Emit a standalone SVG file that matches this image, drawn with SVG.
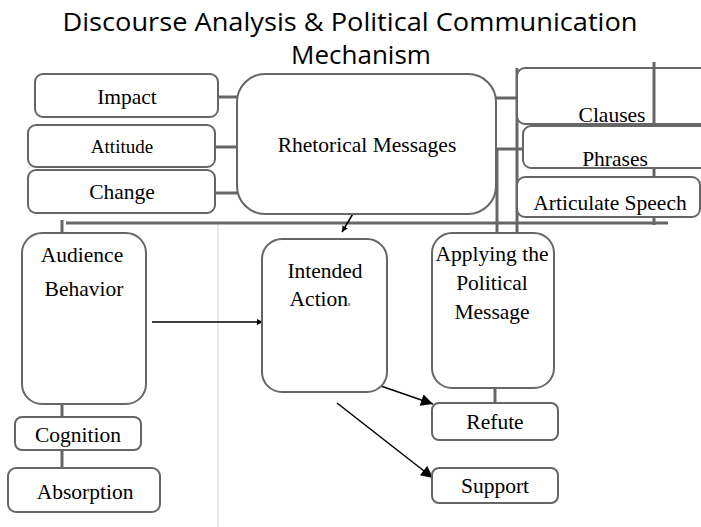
<svg xmlns="http://www.w3.org/2000/svg" width="701" height="527" viewBox="0 0 701 527">
<defs>
<style>
.box{fill:#fff;stroke:#666;stroke-width:2}
.ln{stroke:#666;stroke-width:3;fill:none}
.ar{stroke:#000;stroke-width:1.5;fill:none}
.t{font-family:'Liberation Serif','DejaVu Serif',serif;font-size:21.5px;fill:#000;text-anchor:middle}
.title{font-family:'Open Sans','Noto Sans',sans-serif;font-size:26px;fill:#000;text-anchor:middle}
</style>
<marker id="ah" viewBox="0 0 10 10" refX="10" refY="5" markerWidth="9" markerHeight="8" markerUnits="strokeWidth" orient="auto"><path d="M0,0 L10,5 L0,10 z" fill="#000"/></marker>
<marker id="as" viewBox="0 0 10 10" refX="10" refY="5" markerWidth="4" markerHeight="4" markerUnits="strokeWidth" orient="auto"><path d="M0,0 L10,5 L0,10 z" fill="#000"/></marker>
</defs>
<rect width="701" height="527" fill="#fff"/>
<g id="title">
<text class="title" x="350" y="31" textLength="575" lengthAdjust="spacingAndGlyphs">Discourse Analysis &amp; Political Communication</text>
<text class="title" x="361" y="64">Mechanism</text>
</g>
<g id="connectors">
<line x1="218" y1="224" x2="218" y2="527" stroke="#ede9df" stroke-width="2"/>
<line class="ln" x1="218" y1="97" x2="238" y2="97"/>
<line class="ln" x1="215" y1="147" x2="238" y2="147"/>
<line class="ln" x1="215" y1="193" x2="238" y2="193"/>
<line class="ln" x1="66" y1="223" x2="668" y2="223"/>
<line class="ln" x1="62" y1="220" x2="62" y2="234"/>
<line class="ln" x1="496" y1="98" x2="517" y2="98"/>
<line class="ln" x1="496" y1="149" x2="524" y2="149"/>
<line class="ln" x1="517" y1="68" x2="517" y2="233"/>
<line class="ln" x1="497" y1="149" x2="497" y2="233"/>
<line class="ln" x1="62" y1="404" x2="62" y2="418"/>
<line class="ln" x1="62" y1="450" x2="62" y2="468"/>
<line class="ln" x1="495" y1="388" x2="495" y2="404"/>
<line class="ar" x1="354" y1="212" x2="342" y2="232" marker-end="url(#as)"/>
<line class="ar" x1="152" y1="322" x2="263" y2="322" marker-end="url(#as)"/>
<line class="ar" x1="375" y1="384" x2="433" y2="404" marker-end="url(#ah)"/>
<line class="ar" x1="337" y1="403" x2="433" y2="478" marker-end="url(#ah)"/>
</g>
<g id="impact"><rect class="box" x="35" y="74" width="183" height="43" rx="8"/><text class="t" x="127" y="104">Impact</text></g>
<g id="attitude"><rect class="box" x="28" y="125" width="187" height="42" rx="8"/><text class="t" x="122" y="153" style="font-size:19px">Attitude</text></g>
<g id="change"><rect class="box" x="28" y="170" width="187" height="43" rx="8"/><text class="t" x="122" y="199">Change</text></g>
<g id="rhetorical"><rect class="box" x="237" y="74" width="259" height="140" rx="28"/><text class="t" x="367" y="152">Rhetorical Messages</text></g>
<g id="clauses"><rect class="box" x="517" y="68" width="200" height="56" rx="8"/><line class="ln" x1="654" y1="62" x2="654" y2="225"/><text class="t" x="612" y="122">Clauses</text></g>
<g id="phrases"><rect class="box" x="523" y="126" width="194" height="42" rx="8"/><text class="t" x="615" y="166">Phrases</text></g>
<g id="articulate"><rect class="box" x="517" y="177" width="183" height="40" rx="8"/><text class="t" x="610" y="210">Articulate Speech</text></g>
<g id="audience"><rect class="box" x="22" y="233" width="124" height="171" rx="20"/><text class="t" x="82" y="262">Audience</text><text class="t" x="84" y="296">Behavior</text></g>
<g id="cognition"><rect class="box" x="15" y="417" width="126" height="33" rx="7"/><text class="t" x="78" y="442">Cognition</text></g>
<g id="absorption"><rect class="box" x="8" y="468" width="152" height="44" rx="8"/><text class="t" x="85" y="499">Absorption</text></g>
<g id="intended"><rect class="box" x="262" y="239" width="125" height="153" rx="20"/><text class="t" x="325" y="278">Intended</text><text class="t" x="320" y="306">Action<tspan style="font-size:6px">s</tspan></text></g>
<g id="applying"><rect class="box" x="432" y="233" width="122" height="155" rx="20"/><text class="t" x="492" y="261">Applying the</text><text class="t" x="492" y="290">Political</text><text class="t" x="492" y="319">Message</text></g>
<g id="refute"><rect class="box" x="432" y="403" width="126" height="37" rx="7"/><text class="t" x="495" y="429">Refute</text></g>
<g id="support"><rect class="box" x="432" y="468" width="126" height="35" rx="7"/><text class="t" x="495" y="493">Support</text></g>
</svg>
